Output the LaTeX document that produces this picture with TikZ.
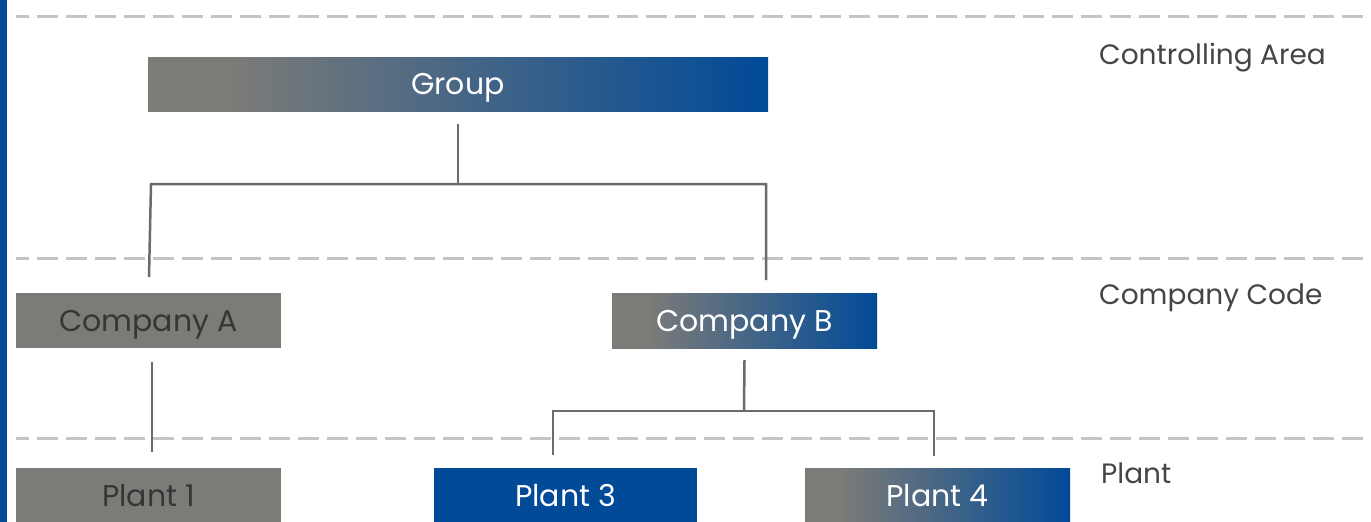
\documentclass[tikz,border=0pt]{standalone}
\usepackage{fontspec}
\setmainfont{Poppins}
\definecolor{boxgray}{HTML}{7B7B78}
\definecolor{boxblue}{HTML}{004A98}
\definecolor{dashgray}{HTML}{C4C4C4}
\definecolor{conngray}{HTML}{6B6B6B}
\definecolor{labgray}{HTML}{454545}
\definecolor{darktext}{HTML}{363636}
\pgfdeclarehorizontalshading{grayblue}{100bp}{color(0bp)=(boxgray); color(32bp)=(boxgray); color(75bp)=(boxblue); color(100bp)=(boxblue)}
\tikzset{
  box/.style={rectangle, inner sep=0pt, minimum height=55pt, text height=21pt, text depth=0pt, font=\fontsize{30}{32}\selectfont},
  graybox/.style={box, fill=boxgray, text=darktext},
  gradbox/.style={box, shading=grayblue, text=white},
  bluebox/.style={box, fill=boxblue, text=white},
  levelline/.style={dashgray, line width=3pt, dash pattern=on 21pt off 8pt, dash phase=8pt},
  conn/.style={conngray, line width=2.5pt},
  levellabel/.style={anchor=west, inner sep=0pt, text height=19pt, text depth=0pt, text=labgray, font=\fontsize{28}{30}\selectfont}
}
\begin{document}
\begin{tikzpicture}[x=1pt, y=-1pt]
\useasboundingbox (0,0) rectangle (1371,522);
\fill[boxblue] (0,0) rectangle (7,522);
% level lines
\draw[levelline] (16,16) -- (1371,16);
\draw[levelline] (16,258) -- (1371,258);
\draw[levelline] (16,438) -- (1371,438);
% labels
\node[levellabel] (lca) at (1099,55) {Controlling Area};
\node[levellabel] (lcc) at (1099,295) {Company Code};
\node[levellabel] (lpl) at (1101,474) {Plant};
% boxes
\node[gradbox, minimum width=620pt, minimum height=54pt] (group) at (458,84) {Group};
\node[graybox, minimum width=265pt] (compA) at (148.5,320.5) {Company A};
\node[gradbox, minimum width=265pt] (compB) at (744.5,320.5) {Company B};
\node[graybox, minimum width=265pt] (plant1) at (148.5,495.5) {Plant 1};
\node[bluebox, minimum width=263pt] (plant3) at (565.5,495.5) {Plant 3};
\node[gradbox, minimum width=265pt] (plant4) at (937.5,495.5) {Plant 4};
% connectors
\coordinate (gj) at (458,184);
\coordinate (gA) at (149,277);
\coordinate (gB) at (766,280);
\draw[conn] ([yshift=-13pt]group.south) -- (gj);
\draw[conn] (gA) -- (151,184) -- (766,184) -- (gB);
\coordinate (aend) at (152,452);
\draw[conn] ([xshift=3.5pt,yshift=-14pt]compA.south) -- (aend);
\coordinate (bj) at (744,411);
\coordinate (b3) at (553,455);
\coordinate (b4) at (934,456);
\draw[conn] ([yshift=-12pt]compB.south) -- (bj);
\draw[conn] (b3) -- (553,411) -- (934,411) -- (b4);
\end{tikzpicture}
\end{document}
